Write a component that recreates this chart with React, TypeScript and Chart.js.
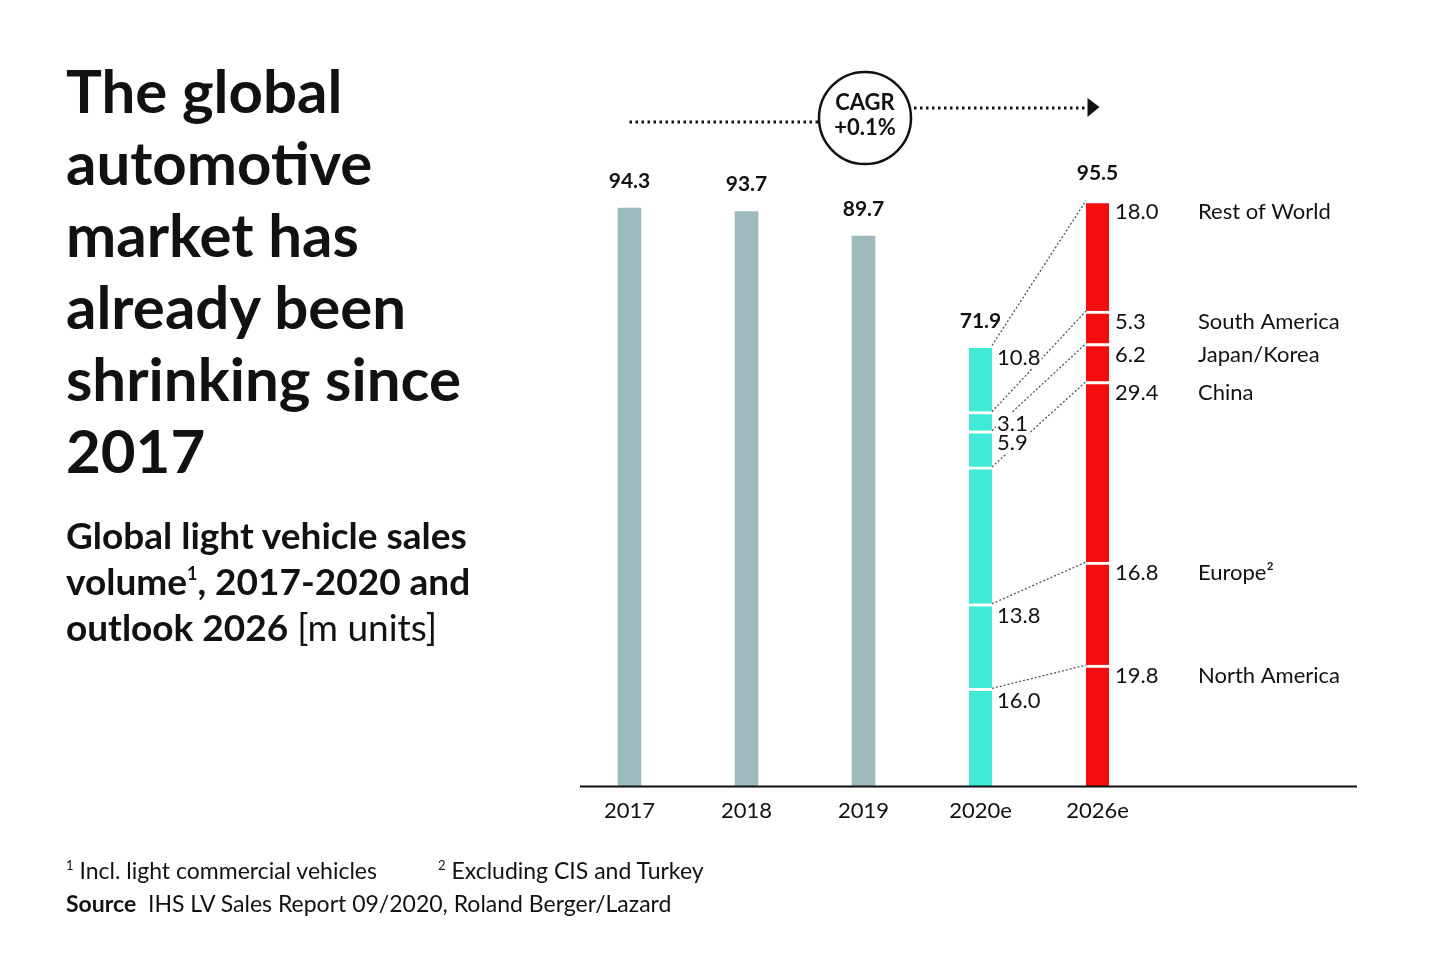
import React, { useEffect, useRef } from 'react';
import { Chart, registerables } from 'chart.js';

Chart.register(...registerables);

// chart values, m units
const years = ['2017', '2018', '2019', '2020e', '2026e'];
const historicTotals = [94.3, 93.7, 89.7, null, null];
// regions listed bottom to top of the stack
const regions = ['North America', 'Europe²', 'China', 'Japan/Korea', 'South America', 'Rest of World'];
const values2020 = [16.0, 13.8, 22.3, 5.9, 3.1, 10.8];
const values2026 = [19.8, 16.8, 29.4, 6.2, 5.3, 18.0];
const totalLabels = ['94.3', '93.7', '89.7', '71.9', '95.5'];
// China's 2020 share is not printed in the reference
const labelled2020 = [true, true, false, true, true, true];

const FONT = 'Lato, "Noto Sans", sans-serif';
const GREY = '#9dbbbf';
const CYAN = '#41ead7';
const RED = '#f30d0d';

const decorations = {
  id: 'decorations',
  afterDatasetsDraw(chart: any) {
    const { ctx } = chart;
    const x = chart.scales.x;
    const y = chart.scales.y;
    const base = y.getPixelForValue(0);
    const half = 11.5;

    ctx.save();
    // baseline
    ctx.strokeStyle = '#111';
    ctx.lineWidth = 2;
    ctx.beginPath();
    ctx.moveTo(580, base);
    ctx.lineTo(1357, base);
    ctx.stroke();

    // totals above bars
    ctx.fillStyle = '#111';
    ctx.font = `bold 21px ${FONT}`;
    ctx.textAlign = 'center';
    ctx.textBaseline = 'middle';
    const totals = [94.3, 93.7, 89.7, values2020.reduce((a, b) => a + b, 0), values2026.reduce((a, b) => a + b, 0)];
    totals.forEach((t, i) => {
      ctx.fillText(totalLabels[i], x.getPixelForValue(i), y.getPixelForValue(t) - (i === 3 ? 24 : 27));
    });

    // segment tops
    const x20 = x.getPixelForValue(3);
    const x26 = x.getPixelForValue(4);
    let c20 = 0;
    let c26 = 0;
    const tops20: number[] = [];
    const tops26: number[] = [];
    regions.forEach((_, i) => {
      c20 += values2020[i];
      c26 += values2026[i];
      tops20.push(y.getPixelForValue(c20));
      tops26.push(y.getPixelForValue(c26));
    });

    // dotted connectors
    ctx.strokeStyle = '#555';
    ctx.lineWidth = 1.3;
    ctx.setLineDash([2, 2]);
    regions.forEach((_, i) => {
      ctx.beginPath();
      ctx.moveTo(x20 + half, tops20[i]);
      ctx.lineTo(x26 - half, tops26[i]);
      ctx.stroke();
    });
    ctx.setLineDash([]);

    // segment labels
    ctx.font = `22px ${FONT}`;
    ctx.textAlign = 'left';
    ctx.textBaseline = 'top';
    regions.forEach((name, i) => {
      if (labelled2020[i]) {
        ctx.fillStyle = '#fff';
        const txt = values2020[i].toFixed(1);
        const w = ctx.measureText(txt).width;
        ctx.fillRect(x20 + half + 4, tops20[i] + 1, w + 2, 22);
        ctx.fillStyle = '#111';
        ctx.fillText(txt, x20 + half + 5, tops20[i] + 1);
      }
      ctx.fillStyle = '#111';
      ctx.fillText(values2026[i].toFixed(1), x26 + half + 6, tops26[i]);
      ctx.fillText(name, 1198, tops26[i]);
    });

    // CAGR badge and arrow
    const cx = 865;
    const cy = 118;
    ctx.strokeStyle = '#111';
    ctx.lineWidth = 3;
    ctx.setLineDash([2.5, 3.5]);
    ctx.beginPath();
    ctx.moveTo(x.getPixelForValue(0), 122);
    ctx.lineTo(cx - 47, 122);
    ctx.moveTo(cx + 49, 108);
    ctx.lineTo(x26 - 8, 108);
    ctx.stroke();
    ctx.setLineDash([]);
    ctx.fillStyle = '#111';
    ctx.beginPath();
    ctx.moveTo(x26 - 10, 98);
    ctx.lineTo(x26 + 2, 107);
    ctx.lineTo(x26 - 10, 117);
    ctx.closePath();
    ctx.fill();
    ctx.lineWidth = 2.5;
    ctx.beginPath();
    ctx.arc(cx, cy, 46, 0, Math.PI * 2);
    ctx.stroke();
    ctx.font = `bold 22px ${FONT}`;
    ctx.textAlign = 'center';
    ctx.textBaseline = 'middle';
    ctx.fillText('CAGR', cx, cy - 15);
    ctx.fillText('+0.1%', cx, cy + 10);
    ctx.restore();
  },
};

const RegionChart: React.FC = () => {
  const canvasRef = useRef<HTMLCanvasElement>(null);
  const chartRef = useRef<Chart | null>(null);

  useEffect(() => {
    if (!canvasRef.current) return;
    if (chartRef.current) chartRef.current.destroy();

    const regionSets = regions.map((name, i) => ({
      label: name,
      data: [null, null, null, values2020[i], values2026[i]],
      backgroundColor: [CYAN, CYAN, CYAN, CYAN, RED],
      borderColor: '#ffffff',
      borderWidth: { top: 3, left: 0, right: 0, bottom: 0 },
      borderSkipped: false,
      barThickness: 23,
    }));

    chartRef.current = new Chart(canvasRef.current, {
      type: 'bar',
      data: {
        labels: years,
        datasets: [
          {
            label: 'Total',
            data: historicTotals,
            backgroundColor: GREY,
            barThickness: 23,
          },
          ...regionSets,
        ] as any,
      },
      options: {
        responsive: false,
        animation: false,
        devicePixelRatio: 1,
        layout: { padding: { left: 571, right: 284, top: 173, bottom: 132 } },
        scales: {
          x: {
            stacked: true,
            grid: { display: false },
            border: { display: false },
            ticks: { color: '#111', font: { family: FONT, size: 22 }, padding: 3 },
          },
          y: {
            stacked: true,
            display: false,
            min: 0,
            max: 100,
          },
        },
        plugins: {
          legend: { display: false },
          tooltip: { enabled: false },
        },
      },
      plugins: [decorations],
    });

    return () => {
      if (chartRef.current) {
        chartRef.current.destroy();
        chartRef.current = null;
      }
    };
  }, []);

  return <canvas ref={canvasRef} width={1440} height={959} style={{ position: 'absolute', left: 0, top: 0 }} />;
};

const App: React.FC = () => {
  const sup = { fontSize: 13, verticalAlign: 'top', lineHeight: '22px' } as React.CSSProperties;
  return (
    <div style={{ position: 'relative', width: 1440, height: 959, margin: -8, background: '#fff', fontFamily: FONT, color: '#111', overflow: 'hidden' }}>
      <RegionChart />
      <div style={{ position: 'absolute', left: 66, top: 54, fontSize: 60, fontWeight: 700, lineHeight: '72px' }}>
        The global<br />automotive<br />market has<br />already been<br />shrinking since<br />2017
      </div>
      <div style={{ position: 'absolute', left: 66, top: 512, fontSize: 37, fontWeight: 700, lineHeight: '46px', whiteSpace: 'nowrap' }}>
        Global light vehicle sales<br />volume<sup style={{ fontSize: 18, verticalAlign: 'top', lineHeight: '30px' }}>1</sup>, 2017-2020 and<br />outlook 2026 <span style={{ fontWeight: 400 }}>[m units]</span>
      </div>
      <div style={{ position: 'absolute', left: 66, top: 854, fontSize: 23, lineHeight: '33px', whiteSpace: 'nowrap' }}>
        <div style={{ position: 'relative' }}>
          <span><sup style={sup}>1</sup> Incl. light commercial vehicles</span>
          <span style={{ position: 'absolute', left: 372, top: 0 }}><sup style={sup}>2</sup> Excluding CIS and Turkey</span>
        </div>
        <div><b>Source</b>&nbsp; IHS LV Sales Report 09/2020, Roland Berger/Lazard</div>
      </div>
    </div>
  );
};

export default App;
